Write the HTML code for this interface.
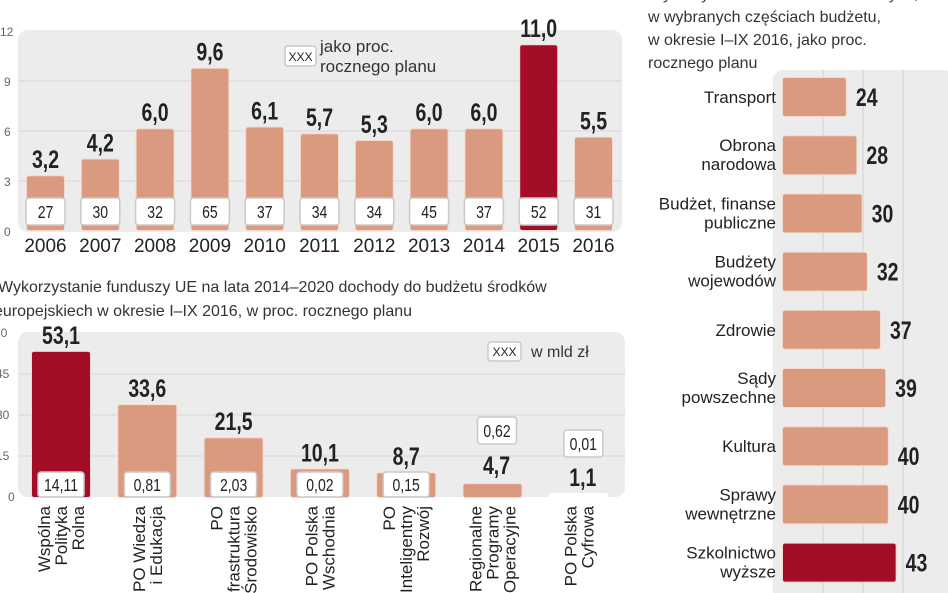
<!DOCTYPE html>
<html><head><meta charset="utf-8"><style>
html,body{margin:0;padding:0;background:#fff;}
svg{display:block;font-family:"Liberation Sans",sans-serif;}
.v{font-family:"Liberation Sans",sans-serif;font-weight:bold;fill:#222;}
.bx{fill:#fff;stroke:#c9c9c9;stroke-width:1.5;}
.bt{font-family:"Liberation Sans",sans-serif;font-size:15px;fill:#222;text-anchor:middle;}
.ax{font-size:12px;fill:#666;}
.t{font-size:16px;fill:#333;}
.lab{font-size:16px;fill:#222;}
</style></head><body>
<svg width="948" height="593" viewBox="0 0 948 593" xmlns="http://www.w3.org/2000/svg">
<rect x="18" y="30" width="604" height="202" rx="10" fill="#ececec"/>
<g stroke="#dadada" stroke-width="1.2">
<line x1="18" y1="81" x2="622" y2="81"/><line x1="18" y1="131" x2="622" y2="131"/><line x1="18" y1="181" x2="622" y2="181"/>
</g>
<g class="ax"><text x="0" y="36">12</text><text x="4" y="86">9</text><text x="4" y="136">6</text><text x="4" y="186">3</text><text x="4" y="236">0</text></g>
<rect x="285" y="46" width="31" height="20" rx="3" class="bx"/>
<text x="300.5" y="61" class="bt" style="font-size:12px">XXX</text>
<text x="320" y="52" class="t" style="font-size:17px">jako proc.</text>
<text x="320" y="72" class="t" style="font-size:17px">rocznego planu</text>
<g id="top"></g>
<text x="-2" y="292" class="t">Wykorzystanie funduszy UE na lata 2014–2020 dochody do budżetu środków</text>
<text x="-6" y="316" class="t">europejskiech w okresie I–IX 2016, w proc. rocznego planu</text>
<rect x="18" y="332" width="607" height="165" rx="10" fill="#ececec"/>
<g stroke="#dadada" stroke-width="1.2">
<line x1="18" y1="374" x2="625" y2="374"/><line x1="18" y1="415" x2="625" y2="415"/><line x1="18" y1="456" x2="625" y2="456"/>
</g>
<g class="ax"><text x="-6" y="337">60</text><text x="-4" y="378">45</text><text x="-4" y="419">30</text><text x="-4" y="460">15</text><text x="8" y="501">0</text></g>
<rect x="488" y="342" width="33" height="19" rx="3" class="bx"/>
<text x="504.5" y="356" class="bt" style="font-size:12px">XXX</text>
<text x="531" y="357" class="t" style="font-size:16px">w mld zł</text>
<g id="bot"></g>
<text x="648" y="-1" class="t">Wykorzystanie środków budżetowych,</text>
<text x="648" y="22" class="t">w wybranych częściach budżetu,</text>
<text x="648" y="45" class="t">w okresie I–IX 2016, jako proc.</text>
<text x="648" y="68" class="t">rocznego planu</text>
<rect x="773" y="70" width="180" height="530" rx="10" fill="#ececec"/>
<g stroke="#d6d6d6" stroke-width="1.2">
<line x1="823" y1="70" x2="823" y2="593"/><line x1="863" y1="70" x2="863" y2="593"/><line x1="903" y1="70" x2="903" y2="593"/>
</g>
<g id="rt"></g>
</svg>
<script>
var NS="http://www.w3.org/2000/svg";
function el(p,t,a,txt){var e=document.createElementNS(NS,t);for(var k in a)e.setAttribute(k,a[k]);if(txt!==undefined)e.textContent=txt;p.appendChild(e);return e;}
function ct(p,x,y,txt,a){a=a||{};a.x=0;a.y=0;a.transform="translate("+x+" "+y+") scale(0.78 1)";return el(p,'text',a,txt);}
var SAL="#d99a80",RED="#a30d27",OUT="#f5d9cd";
var g=document.getElementById('top');
var tv=[3.2,4.2,6.0,9.6,6.1,5.7,5.3,6.0,6.0,11.0,5.5],tp=[27,30,32,65,37,34,34,45,37,52,31];
for(var i=0;i<11;i++){var x=27+i*54.8,h=tv[i]*16.8,y=230-h;
el(g,'rect',{x:x-1,y:y-1,width:39,height:h+2,rx:3,fill:OUT});
el(g,'rect',{x:x,y:y,width:37,height:h,rx:2,fill:i==9?RED:SAL});
el(g,'rect',{x:x-1,y:198,width:39,height:27,rx:3,"class":"bx"});
ct(g,x+18.5,218,tp[i],{"class":"bt",style:"font-size:18px"});
ct(g,x+18.5,y-8,tv[i].toFixed(1).replace('.',','),{"class":"v","text-anchor":"middle","font-size":"25"});
el(g,'text',{x:x+18.5,y:252,"text-anchor":"middle","font-size":"19",fill:"#222"},2006+i);}
g=document.getElementById('bot');
var bv=[53.1,33.6,21.5,10.1,8.7,4.7,1.1],bb=["14,11","0,81","2,03","0,02","0,15","0,62","0,01"];
var labs=[["Wspólna","Polityka","Rolna"],["PO Wiedza","i Edukacja"],["PO","Infrastruktura","i Środowisko"],["PO Polska","Wschodnia"],["PO","Inteligentny","Rozwój"],["Regionalne","Programy","Operacyjne"],["PO Polska","Cyfrowa"]];
for(i=0;i<7;i++){x=32+i*86.3;h=Math.max(bv[i]*2.733,3);y=497-h;
el(g,'rect',{x:x-1,y:y-1,width:60,height:h+2,rx:3,fill:i==6?"#fff":OUT});
el(g,'rect',{x:x,y:y,width:58,height:h,rx:2,fill:i==0?RED:(i==6?"#fff":SAL)});
var by,vy;
if(i<5){by=472;el(g,'rect',{x:x+6,y:by,width:46,height:25,rx:3,"class":"bx"});
ct(g,x+29,by+19,bb[i],{"class":"bt",style:"font-size:18px"});vy=(i<3?y-8:Math.min(y-8,466));}
else{by=i==5?417:430;el(g,'rect',{x:x+14,y:by,width:39,height:27,rx:3,"class":"bx"});
ct(g,x+33.5,by+20,bb[i],{"class":"bt",style:"font-size:18px"});vy=i==5?474:486;}
ct(g,x+29+(i>=5?4:0),vy,bv[i].toFixed(1).replace('.',','),{"class":"v","text-anchor":"middle","font-size":"25"});
var L=labs[i],n=L.length,cx=x+29;
for(var j=0;j<n;j++){var lx=cx+(j-(n-1)/2)*17+6;
el(g,'text',{x:lx,y:506,transform:"rotate(-90 "+lx+" 506)","text-anchor":"end","font-size":"17",fill:"#222"},L[j]);}}
g=document.getElementById('rt');
var rl=[["Transport"],["Obrona","narodowa"],["Budżet, finanse","publiczne"],["Budżety","wojewodów"],["Zdrowie"],["Sądy","powszechne"],["Kultura"],["Sprawy","wewnętrzne"],["Szkolnictwo","wyższe"]];
var rv=[24,28,30,32,37,39,40,40,43];
for(i=0;i<9;i++){var c=97+i*58.2,w=rv[i]*2.62;
el(g,'rect',{x:782,y:c-20,width:w+2,height:40,rx:3,fill:OUT});
el(g,'rect',{x:783,y:c-19,width:w,height:38,rx:2,fill:i==8?RED:SAL});
ct(g,785+w+8,c+9+(i==6?10:0),rv[i],{"class":"v","font-size":"25"});
L=rl[i];
if(L.length==1)el(g,'text',{x:776,y:c+6,"text-anchor":"end","class":"lab",style:"font-size:17px"},L[0]);
else{el(g,'text',{x:776,y:c-4,"text-anchor":"end","class":"lab",style:"font-size:17px"},L[0]);el(g,'text',{x:776,y:c+15,"text-anchor":"end","class":"lab",style:"font-size:17px"},L[1]);}}
</script>
</body></html>
